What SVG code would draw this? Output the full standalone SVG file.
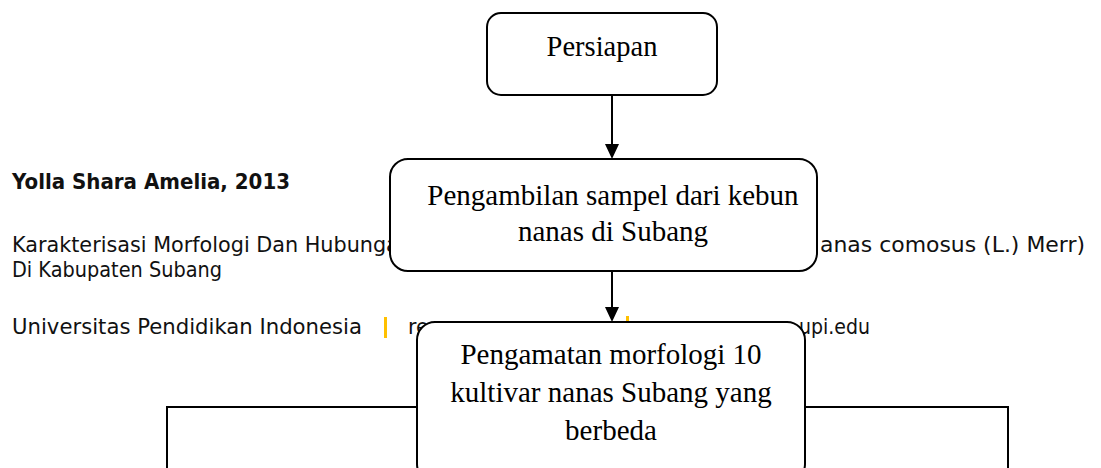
<svg xmlns="http://www.w3.org/2000/svg" width="1101" height="468" viewBox="0 0 1101 468">
<style>
.bg{font-family:"DejaVu Sans","Liberation Sans",sans-serif;font-size:20.5px;fill:#111}
.b{font-weight:bold}
.bar{fill:#FFC000}
.box{fill:#fff;stroke:#000;stroke-width:2}
.lbl{font-family:"Liberation Serif","Times New Roman",serif;font-size:29px;fill:#000;text-anchor:middle}
.ln{stroke:#000;stroke-width:2;fill:none}
</style>
<defs>
<marker id="ah" viewBox="0 0 15 14" refX="7" refY="7" markerWidth="15" markerHeight="14" markerUnits="userSpaceOnUse" orient="auto">
<path d="M0,0 L15,7 L0,14 Z" fill="#000"/>
</marker>
</defs>
<rect width="1101" height="468" fill="#fff"/>
<g id="page-text">
<text class="bg b" x="12" y="189" textLength="278" lengthAdjust="spacingAndGlyphs">Yolla Shara Amelia, 2013</text>
<text class="bg" x="12" y="252" textLength="400" lengthAdjust="spacingAndGlyphs">Karakterisasi Morfologi Dan Hubungan</text>
<text class="bg" x="820" y="252" textLength="265" lengthAdjust="spacingAndGlyphs">anas comosus (L.) Merr)</text>
<text class="bg" x="12" y="277" textLength="210" lengthAdjust="spacingAndGlyphs">Di Kabupaten Subang</text>
<text class="bg" x="12" y="334" textLength="350" lengthAdjust="spacingAndGlyphs">Universitas Pendidikan Indonesia</text>
<rect class="bar" x="384" y="317" width="3" height="21"/>
<text class="bg" x="408" y="334">re</text>
<rect class="bar" x="626" y="316" width="3" height="21"/>
<text class="bg" x="799" y="334" textLength="71" lengthAdjust="spacingAndGlyphs">upi.edu</text>
</g>
<g id="connectors">
<line class="ln" x1="612" y1="95" x2="612" y2="151" marker-end="url(#ah)"/>
<line class="ln" x1="612" y1="271" x2="612" y2="314" marker-end="url(#ah)"/>
<polyline class="ln" points="167,468 167,407 1008,407 1008,468"/>
</g>
<g id="n1">
<rect class="box" x="487" y="13" width="230" height="82" rx="14"/>
<text class="lbl" x="602" y="56" style="font-size:28.5px">Persiapan</text>
</g>
<g id="n2">
<rect class="box" x="390" y="159" width="427" height="112" rx="18"/>
<text class="lbl" x="613" y="205">Pengambilan sampel dari kebun</text>
<text class="lbl" x="613" y="241">nanas di Subang</text>
</g>
<g id="n3">
<rect class="box" x="417" y="322" width="388" height="160" rx="18"/>
<text class="lbl" x="611" y="364">Pengamatan morfologi 10</text>
<text class="lbl" x="611" y="402">kultivar nanas Subang yang</text>
<text class="lbl" x="611" y="440">berbeda</text>
</g>
</svg>
